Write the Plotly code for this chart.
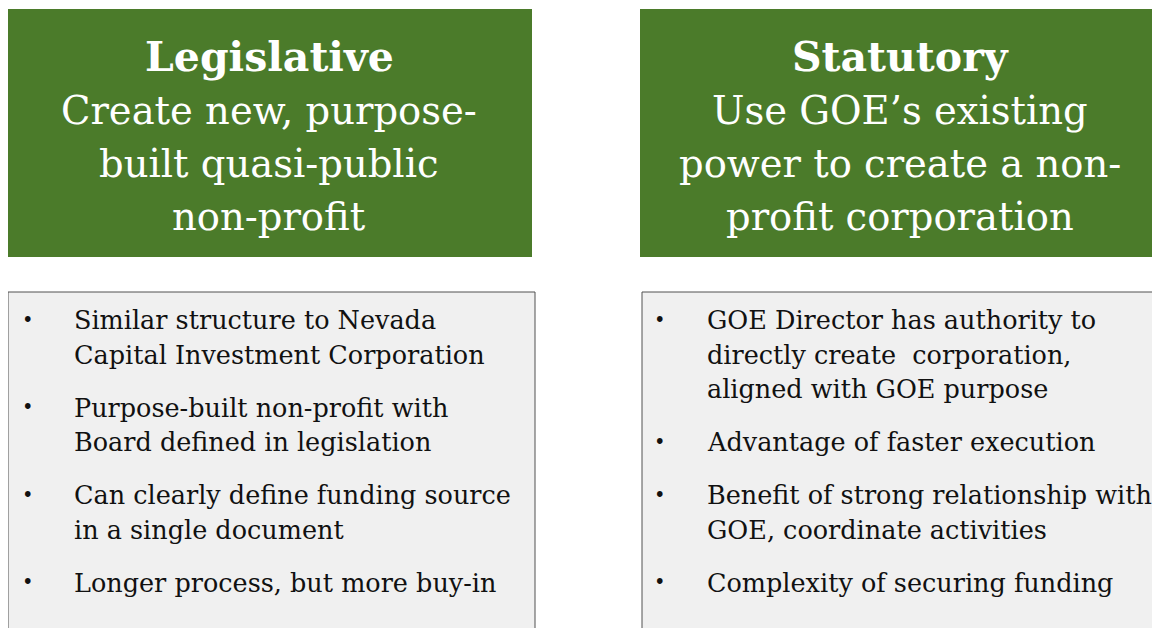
import plotly.graph_objects as go

W, H = 1160, 628
OFF = 8  # page body margin of the browser

# ---- content ----
left_title = "Legislative"
left_sub = ["Create new, purpose-", "built quasi-public", "non-profit"]
right_title = "Statutory"
right_sub = ["Use GOE\u2019s existing", "power to create a non-", "profit corporation"]

left_bullets = [
    ["Similar structure to Nevada", "Capital Investment Corporation"],
    ["Purpose-built non-profit with", "Board defined in legislation"],
    ["Can clearly define funding source", "in a single document"],
    ["Longer process, but more buy-in"],
]
right_bullets = [
    ["GOE Director has authority to", "directly create  corporation,", "aligned with GOE purpose"],
    ["Advantage of faster execution"],
    ["Benefit of strong relationship with", "GOE, coordinate activities"],
    ["Complexity of securing funding"],
]

# ---- style / layout ----
GREEN = "#4b7b2a"
GRAY = "#f0f0f0"
FONT = "DejaVu Serif"
TITLE_SIZE = 41
HEAD_SIZE = 38.5
BODY_SIZE = 25.5
HEAD_Y0 = 57
HEAD_DY = 53
BODY_Y0 = 320
LINE_DY = 34.5
GAP = 18.5

panels = [
    dict(gx0=6, gx1=532, bx0=8, bx1=535, cx=269, bullet_x=28, text_x=72,
         title=left_title, sub=left_sub, bullets=left_bullets),
    dict(gx0=640, gx1=1170, bx0=642, bx1=1170, cx=900, bullet_x=660, text_x=705,
         title=right_title, sub=right_sub, bullets=right_bullets),
]

fig = go.Figure()
shapes, annots = [], []
for p in panels:
    shapes.append(dict(type="rect", xref="x", yref="y", x0=p["gx0"], x1=p["gx1"], y0=9, y1=257,
                       fillcolor=GREEN, line=dict(width=0), layer="below"))
    shapes.append(dict(type="rect", xref="x", yref="y", x0=p["bx0"], x1=p["bx1"], y0=292, y1=660,
                       fillcolor=GRAY, line=dict(color="#505050", width=1), layer="below"))
    annots.append(dict(x=p["cx"], y=HEAD_Y0, text="<b>" + p["title"] + "</b>", showarrow=False,
                       xanchor="center", yanchor="middle",
                       font=dict(family=FONT, size=TITLE_SIZE, color="white")))
    for i, line in enumerate(p["sub"]):
        annots.append(dict(x=p["cx"], y=HEAD_Y0 + HEAD_DY * (i + 1), text=line, showarrow=False,
                           xanchor="center", yanchor="middle",
                           font=dict(family=FONT, size=HEAD_SIZE, color="white")))
    y = BODY_Y0
    for b in p["bullets"]:
        annots.append(dict(x=p["bullet_x"], y=y, text="\u2022", showarrow=False,
                           xanchor="center", yanchor="middle",
                           font=dict(family=FONT, size=BODY_SIZE - 6, color="#111111")))
        for j, line in enumerate(b):
            annots.append(dict(x=p["text_x"], y=y + j * LINE_DY, text=line, showarrow=False,
                               xanchor="left", yanchor="middle",
                               font=dict(family=FONT, size=BODY_SIZE, color="#111111")))
        y += len(b) * LINE_DY + GAP

for a in annots:
    a["xref"] = "x"
    a["yref"] = "y"

FW, FH = W - OFF, H - OFF  # figure fits inside the window without scrollbars
fig.update_layout(
    width=FW, height=FH, margin=dict(l=0, r=0, t=0, b=0),
    paper_bgcolor="white", plot_bgcolor="white",
    xaxis=dict(range=[OFF, OFF + FW], visible=False, fixedrange=True),
    yaxis=dict(range=[OFF + FH, OFF], visible=False, fixedrange=True),
    shapes=shapes, annotations=annots, showlegend=False,
)
fig.write_html("out.html")
